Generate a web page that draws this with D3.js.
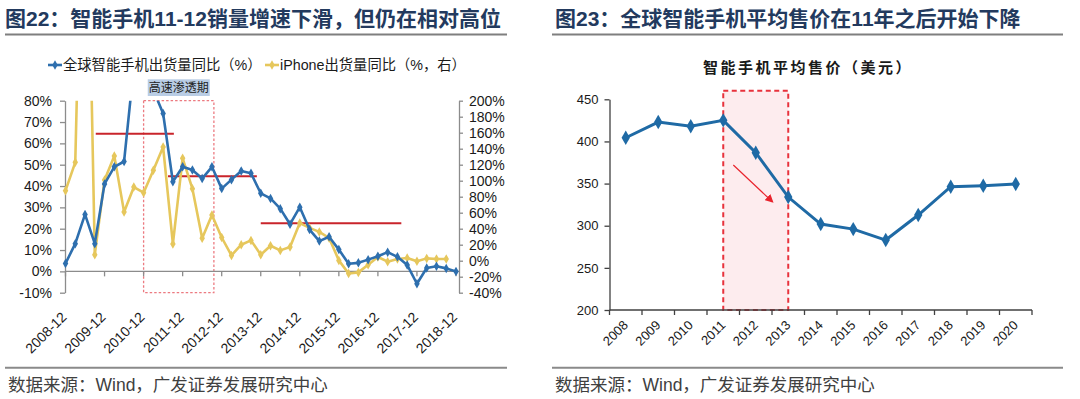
<!DOCTYPE html>
<html><head><meta charset="utf-8">
<script src="https://cdn.jsdelivr.net/npm/d3@7/dist/d3.min.js"></script>
<style>
body{margin:0;background:#fff;}
svg{display:block;font-family:"Liberation Sans",Arial,"Noto Sans CJK SC",sans-serif;}
</style></head><body>
<svg id="c" width="1080" height="399"></svg>
<script>
// ---------- DATA ----------
const quarters = ["2008-12","2009-03","2009-06","2009-09","2009-12","2010-03","2010-06","2010-09","2010-12",
"2011-03","2011-06","2011-09","2011-12","2012-03","2012-06","2012-09","2012-12","2013-03","2013-06","2013-09",
"2013-12","2014-03","2014-06","2014-09","2014-12","2015-03","2015-06","2015-09","2015-12","2016-03","2016-06",
"2016-09","2016-12","2017-03","2017-06","2017-09","2017-12","2018-03","2018-06","2018-09","2018-12"];
const quarterTickLabels = ["2008-12","2009-12","2010-12","2011-12","2012-12","2013-12","2014-12","2015-12","2016-12","2017-12","2018-12"];
const globalYoY = [3.7,13,26.7,13,41,49,51.5,96,88,85,74,42,49,47.5,43.5,49,38.8,43,47,46,36.6,34.2,29.4,22.1,30.1,19.6,14.2,16.2,10.2,3.6,4.0,5.5,7.1,9.0,6.8,3.0,-5.8,1.6,2.4,1.4,-0.1];
const iphoneYoY = [87.5,123,626,7.5,101,131,61,92,85,113,142,21,128,90,28,57,29,6.6,20,25.4,7.5,18.7,12.9,17.1,47,41,36,28.4,0.4,-16,-14.6,-5,4.6,-1.2,2.1,3.3,-0.8,2.9,2.1,2.1,null];
const leftTicks = [-10,0,10,20,30,40,50,60,70,80];
const rightTicks = [-40,-20,0,20,40,60,80,100,120,140,160,180,200];
// average level annotations (category index span, left-axis value)
const levelStart = [3.1, 10.5, 20];
const levelEnd = [11.1, 19.6, 34.4];
const levelValue = [64.5, 44.6, 22.6];
const periodSpan = [8, 15.2]; // 高速渗透期 (category index)
const periodLabel = "高速渗透期";

const years = ["2008","2009","2010","2011","2012","2013","2014","2015","2016","2017","2018","2019","2020"];
const asp = [404.4,423,418,425,386.6,334,302,296,283,312.7,346.3,347.5,349.5];
const aspTicks = [200,250,300,350,400,450];
const aspHighlight = ["2011","2013"];
const arrowFrom = [2011.31, 372];
const arrowTo = [2012.51, 328.5];

const titleL = "图22：智能手机11-12销量增速下滑，但仍在相对高位";
const titleR = "图23：全球智能手机平均售价在11年之后开始下降";
const legendL = ["全球智能手机出货量同比（%）","iPhone出货量同比（%，右）"];
const innerTitleR = "智能手机平均售价（美元）";
const source = "数据来源：Wind，广发证券发展研究中心";

// ---------- STYLE ----------
const navy = "#233a5e", blue = "#2e6fae", gold = "#e6c75c", red = "#c9242b";
const svg = d3.select("#c");

// Titles & rules
[[5,titleL,5,507],[555,titleR,552,1063]].forEach(([x,t,a,b])=>{
  svg.append("text").attr("x",x).attr("y",25.5).attr("font-size",21).attr("font-weight","bold")
    .attr("fill",navy).text(t);
  svg.append("line").attr("x1",a).attr("x2",b).attr("y1",34.5).attr("y2",34.5)
    .attr("stroke","#7f7f7f").attr("stroke-width",2);
  svg.append("line").attr("x1",a).attr("x2",b).attr("y1",367.7).attr("y2",367.7)
    .attr("stroke","#8a8a8a").attr("stroke-width",2);
  svg.append("text").attr("x",a+3).attr("y",391).attr("font-size",17.5).attr("fill","#404040").text(source);
});

// ---------- LEFT CHART ----------
const xL = d3.scalePoint().domain(quarters).range([65.5,456]);
const xIdx = d3.scaleLinear().domain([0,quarters.length-1]).range([65.5,456]);
const yL = d3.scaleLinear().domain([-10,80]).range([292.7,100.7]);
const yR = d3.scaleLinear().domain([-40,200]).range([292.7,100.7]);
const gL = svg.append("g");

// period box
gL.append("rect").attr("x",xIdx(periodSpan[0])).attr("y",yL(80))
  .attr("width",xIdx(periodSpan[1])-xIdx(periodSpan[0])).attr("height",yL(-10)-yL(80))
  .attr("fill","none").attr("stroke","#ec7a80").attr("stroke-width",1.3).attr("stroke-dasharray","2.5,2");
const midP = (xIdx(periodSpan[0])+xIdx(periodSpan[1]))/2;
gL.append("rect").attr("x",midP-31).attr("y",79.3).attr("width",62).attr("height",16.7).attr("fill","#b9cde5");
gL.append("text").attr("x",midP).attr("y",92).attr("text-anchor","middle").attr("font-size",12)
  .attr("fill","#222").text(periodLabel);

// axes
const axL = gL.append("g").attr("transform","translate(65,0)")
  .call(d3.axisLeft(yL).tickValues(leftTicks).tickSize(5).tickPadding(8).tickSizeOuter(0).tickFormat(d=>d+"%"));
const axR = gL.append("g").attr("transform","translate(459,0)")
  .call(d3.axisRight(yR).tickValues(rightTicks).tickSize(4).tickPadding(6).tickSizeOuter(0).tickFormat(d=>d+"%"));
[axL,axR].forEach(a=>{
  a.select(".domain").attr("stroke","#8c8c8c").attr("stroke-width",1.3);
  a.selectAll(".tick line").attr("stroke","#8c8c8c").attr("stroke-width",1.3);
  a.selectAll("text").attr("font-size",14).attr("fill","#1a1a1a").attr("font-family",'"Liberation Sans",Arial,sans-serif');
});
gL.append("line").attr("x1",65).attr("x2",459).attr("y1",yL(0)).attr("y2",yL(0))
  .attr("stroke","#8c8c8c").attr("stroke-width",1.3);
gL.selectAll(".xt").data(quarterTickLabels).join("line").attr("class","xt")
  .attr("x1",d=>xL(d)).attr("x2",d=>xL(d)).attr("y1",yL(0)).attr("y2",yL(0)+5)
  .attr("stroke","#8c8c8c").attr("stroke-width",1.3);
gL.selectAll(".xl").data(quarterTickLabels).join("text").attr("class","xl")
  .attr("transform",d=>`translate(${xL(d)+2},${318}) rotate(-45)`)
  .attr("text-anchor","end").attr("font-size",14).attr("fill","#1a1a1a").text(d=>d);

// clip
svg.append("clipPath").attr("id","clipL").append("rect").attr("x",60).attr("y",yL(80)).attr("width",405).attr("height",yL(-10)-yL(80));
const plotL = gL.append("g").attr("clip-path","url(#clipL)");

// level lines
plotL.selectAll(".lvl").data(levelValue).join("line").attr("class","lvl")
  .attr("x1",(d,i)=>xIdx(levelStart[i])).attr("x2",(d,i)=>xIdx(levelEnd[i]))
  .attr("y1",d=>yL(d)).attr("y2",d=>yL(d)).attr("stroke",red).attr("stroke-width",2);

const diamond = d3.symbol().type(d3.symbolDiamond);
function series(vals, yS, col){
  const pts = vals.map((v,i)=>({q:quarters[i],v})).filter(d=>d.v!==null);
  plotL.append("path").datum(pts).attr("fill","none").attr("stroke",col).attr("stroke-width",2.6)
    .attr("stroke-linejoin","round")
    .attr("d",d3.line().x(d=>xL(d.q)).y(d=>yS(d.v)));
  plotL.selectAll(null).data(pts).join("path")
    .attr("transform",d=>`translate(${xL(d.q)},${yS(d.v)})`)
    .attr("d",diamond.size(26)()).attr("fill",col);
}
series(iphoneYoY, yR, gold);
series(globalYoY, yL, blue);

// legend
const legCols = [blue, gold];
const legX = [48, 265];
legendL.forEach((t,i)=>{
  const g = svg.append("g");
  g.append("line").attr("x1",legX[i]).attr("x2",legX[i]+14).attr("y1",65).attr("y2",65).attr("stroke",legCols[i]).attr("stroke-width",2.6);
  g.append("path").attr("transform",`translate(${legX[i]+7},65)`).attr("d",d3.symbol().type(d3.symbolDiamond).size(26)()).attr("fill",legCols[i]);
  g.append("text").attr("x",legX[i]+15).attr("y",70).attr("font-size",14.3).attr("fill","#1a1a1a").text(t);
});

// ---------- RIGHT CHART ----------
const xB = d3.scaleBand().domain(years).range([609.5,1032]);
const xYear = d3.scaleLinear().domain([2007.5,2020.5]).range([609.5,1032]);
const yA = d3.scaleLinear().domain([200,450]).range([310,99.3]);
const gR = svg.append("g");
const cx = d => xB(d)+xB.bandwidth()/2;

gR.append("text").attr("x",808).attr("y",73).attr("text-anchor","middle").attr("font-size",15)
  .attr("font-weight","bold").attr("letter-spacing",2.5).attr("fill","#1a1a1a").text(innerTitleR);

// highlight
gR.append("rect").attr("x",cx(aspHighlight[0])).attr("y",yA(460))
  .attr("width",cx(aspHighlight[1])-cx(aspHighlight[0])).attr("height",yA(200)-yA(460))
  .attr("fill","#fdecee").attr("stroke","#e8323c").attr("stroke-width",2).attr("stroke-dasharray","5,3.5");

const axA = gR.append("g").attr("transform","translate(609.5,0)")
  .call(d3.axisLeft(yA).tickValues(aspTicks).tickSize(5).tickPadding(6).tickSizeOuter(0));
axA.select(".domain").attr("stroke","#404040").attr("stroke-width",1.3);
axA.selectAll(".tick line").attr("stroke","#404040").attr("stroke-width",1.3);
axA.selectAll("text").attr("font-size",13).attr("fill","#1a1a1a");
gR.append("line").attr("x1",609.5).attr("x2",1032).attr("y1",310).attr("y2",310).attr("stroke","#404040").attr("stroke-width",1.3);
const bounds = years.map(d=>xB(d)).concat([xB.range()[1]]);
gR.selectAll(".bt").data(bounds).join("line").attr("class","bt")
  .attr("x1",d=>d).attr("x2",d=>d).attr("y1",310).attr("y2",315).attr("stroke","#404040").attr("stroke-width",1.3);
gR.selectAll(".yl").data(years).join("text").attr("class","yl")
  .attr("transform",d=>`translate(${cx(d)+3},${326}) rotate(-45)`)
  .attr("text-anchor","end").attr("font-size",13).attr("fill","#1a1a1a").text(d=>d);

// arrow
svg.append("defs").append("marker").attr("id","arr").attr("viewBox","0 0 10 10").attr("refX",8).attr("refY",5)
  .attr("markerWidth",7).attr("markerHeight",7).attr("orient","auto")
  .append("path").attr("d","M0,0L10,5L0,10z").attr("fill","#e8232c");
gR.append("line").attr("x1",xYear(arrowFrom[0])).attr("y1",yA(arrowFrom[1]))
  .attr("x2",xYear(arrowTo[0])).attr("y2",yA(arrowTo[1]))
  .attr("stroke","#e8232c").attr("stroke-width",1.2).attr("marker-end","url(#arr)");

const rb = "#1f6aa5";
gR.append("path").datum(asp).attr("fill","none").attr("stroke",rb).attr("stroke-width",3)
  .attr("d",d3.line().x((d,i)=>cx(years[i])).y(d=>yA(d)));
gR.selectAll(".am").data(asp).join("path").attr("class","am")
  .attr("transform",(d,i)=>`translate(${cx(years[i])},${yA(d)})`)
  .attr("d",d3.symbol().type(d3.symbolDiamond).size(60)()).attr("fill",rb);
</script></body></html>
